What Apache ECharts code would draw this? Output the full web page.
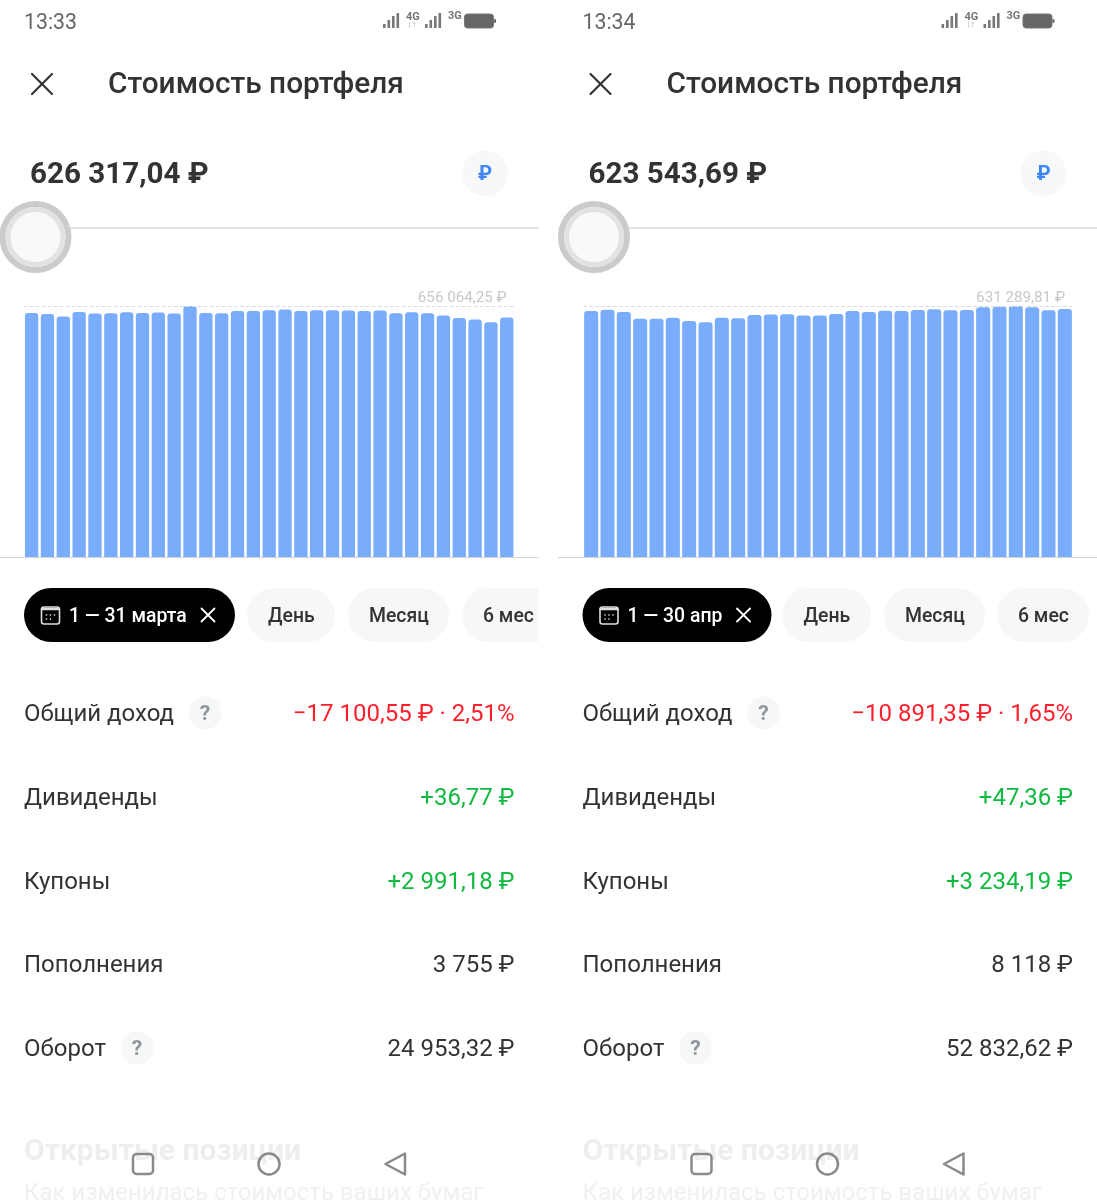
<!DOCTYPE html>
<html>
<head>
<meta charset="utf-8">
<style>
html, body { margin: 0; padding: 0; background: #fff; }
#chart { width: 1097px; height: 1200px; }
</style>
<script src="https://cdn.jsdelivr.net/npm/echarts@6/dist/echarts.min.js"></script>
</head>
<body>
<div id="chart"></div>
<script>
// values, the last one of each month is the headline total
const marchDays = [1,2,3,4,5,6,7,8,9,10,11,12,13,14,15,16,17,18,19,20,21,22,23,24,25,26,27,28,29,30,31];
const marchValues = [637800,635200,628400,640400,636200,637000,639600,637800,638800,636200,656064.25,637800,637000,643000,643000,644800,646600,643000,644800,644800,644000,643000,644000,637000,639600,637000,631000,624700,620500,613500,626317.04];
const aprilDays = [1,2,3,4,5,6,7,8,9,10,11,12,13,14,15,16,17,18,19,20,21,22,23,24,25,26,27,28,29,30];
const aprilValues = [618800,622100,616300,599500,599500,602000,593700,590300,602000,600400,608700,609600,610400,607100,607100,611300,618800,616300,619600,618800,621300,623000,620500,621300,628000,629700,631289.81,628000,620500,623543.69];

const rowLabels = ["Общий доход", "Дивиденды", "Купоны", "Пополнения", "Оборот"];
const rowY = [713, 797, 881, 964, 1048];
const rowColors = ["#ff1f2b", "#10b93f", "#10b93f", "#333333", "#333333"];
const marchRows = ["−17 100,55 ₽ · 2,51%", "+36,77 ₽", "+2 991,18 ₽", "3 755 ₽", "24 953,32 ₽"];
const aprilRows = ["−10 891,35 ₽ · 1,65%", "+47,36 ₽", "+3 234,19 ₽", "8 118 ₽", "52 832,62 ₽"];

const FONT = "Roboto, sans-serif";
const chart = echarts.init(document.getElementById("chart"), null, { renderer: "canvas" });
const graphics = [];

function txt(x, y, text, size, color, weight, align) {
    graphics.push({
        type: "text", x: x, y: y + size * 0.1, silent: true,
        style: {
            text: text, fontSize: size, fontFamily: FONT, fill: color,
            fontWeight: weight || 400, textAlign: align || "left", textVerticalAlign: "middle"
        }
    });
}
function rect(x, y, w, h, r, fill, stroke, lw) {
    graphics.push({
        type: "rect", silent: true,
        shape: { x: x, y: y, width: w, height: h, r: r },
        style: { fill: fill, stroke: stroke || null, lineWidth: lw || 0 }
    });
}
function line(x1, y1, x2, y2, color, lw) {
    graphics.push({
        type: "line", silent: true,
        shape: { x1: x1, y1: y1, x2: x2, y2: y2 },
        style: { stroke: color, lineWidth: lw, lineCap: "round" }
    });
}
function circle(cx, cy, r, fill, stroke, lw) {
    graphics.push({
        type: "circle", silent: true,
        shape: { cx: cx, cy: cy, r: r },
        style: { fill: fill, stroke: stroke || null, lineWidth: lw || 0 }
    });
}
function cross(cx, cy, s, color, lw) {
    line(cx - s, cy - s, cx + s, cy + s, color, lw);
    line(cx - s, cy + s, cx + s, cy - s, color, lw);
}
function signal(x) {
    [4, 8, 12, 15].forEach(function (h, i) {
        rect(x + i * 4.5, 28 - h, 2.6, h, 0.5, "#777");
    });
}

// one phone screen, dx shifts it to its column
function drawScreen(p) {
    const dx = p.dx;
    txt(24 + dx, 22, p.time, 21.3, "#666");
    signal(383 + dx);
    txt(406 + dx, 16, "4G", 11, "#777", 700);
    txt(407.5 + dx, 24, "↓↑", 9, "#aaa", 400);
    signal(425 + dx);
    txt(448 + dx, 15.5, "3G", 11, "#777", 700);
    rect(464.5 + dx, 14, 29, 14, 3, "#666", "#777", 1);
    rect(494 + dx, 19, 2, 4, 1, "#666");

    cross(42 + dx, 84, 10, "#333", 2.2);
    txt(108 + dx, 83, "Стоимость портфеля", 29.8, "#333", 500);
    txt(30 + dx, 173, p.total, 29.6, "#333", 700);
    circle(485 + dx, 173.5, 23, "#f6f8f9");
    txt(485 + dx, 173, "₽", 20, "#3d86f5", 700, "center");

    line(dx, 228, p.lineEnd, 228, "#cccccc", 1.2);
    circle(35.5 + dx, 237, 33, "#f9f9f9", "#cbcbcb", 6);
    circle(35.5 + dx, 237, 27.5, null, "#e2e2e2", 5);

    line(dx, 557.5, p.lineEnd, 557.5, "#d4d4d4", 1.2);

    rect(24 + dx, 588, p.pillW, 54, 27, "#000");
    rect(41.5 + dx, 607, 18, 17, 2.5, "#000", "#ddd", 1.6);
    line(42 + dx, 609, 59 + dx, 609, "#ddd", 2.5);
    [46.5, 50.5, 54.5].forEach(function (cx) {
        circle(cx + dx, 615, 0.8, "#fff");
    });
    circle(46.5 + dx, 619, 0.8, "#fff");
    circle(50.5 + dx, 619, 0.8, "#fff");
    txt(69 + dx, 615, p.range, 19.4, "#fff", 500);
    cross(p.pillX + dx, 615, 6.5, "#fff", 1.8);

    p.pills.forEach(function (b) {
        rect(b[0], 588, b[1], 54, b[3] ? [27, 0, 0, 27] : 27, "#f6f7f7");
        txt(b[0] + b[4], 615, b[2], 19.4, "#333", 500);
    });

    rowLabels.forEach(function (label, i) {
        txt(24 + dx, rowY[i], label, 24, "#333");
        txt(514.5 + dx, rowY[i], p.rows[i], 24, rowColors[i], 400, "right");
    });
    circle(205 + dx, 713, 16.5, "#f6f7f7");
    txt(205 + dx, 713, "?", 21, "#8f959c", 700, "center");
    circle(137 + dx, 1048, 16.5, "#f6f7f7");
    txt(137 + dx, 1048, "?", 21, "#8f959c", 700, "center");

    txt(24 + dx, 1149, "Открытые позиции", 30, "#eeeeee", 700);
    txt(24 + dx, 1192, "Как изменилась стоимость ваших бумаг", 24, "#f0f0f0");

    rect(133 + dx, 1154, 20, 20, 3.5, null, "#8a8a8a", 2.5);
    circle(269 + dx, 1164, 10.5, null, "#8a8a8a", 2.5);
    graphics.push({
        type: "polygon", silent: true,
        shape: { points: [[405 + dx, 1153.5], [405 + dx, 1174.5], [385.5 + dx, 1164]] },
        style: { fill: null, stroke: "#8a8a8a", lineWidth: 2.5, lineJoin: "round" }
    });
}

drawScreen({
    dx: 0, time: "13:33", total: "626 317,04 ₽", lineEnd: 538.5, range: "1 — 31 марта",
    pillW: 211, pillX: 208, rows: marchRows,
    pills: [[247, 88, "День", false, 21], [348, 101, "Месяц", false, 21], [462, 76.5, "6 мес", true, 21]]
});
drawScreen({
    dx: 558.5, time: "13:34", total: "623 543,69 ₽", lineEnd: 1097, range: "1 — 30 апр",
    pillW: 189, pillX: 185, rows: aprilRows,
    pills: [[782, 89, "День", false, 21.5], [884, 101, "Месяц", false, 21], [997, 92, "6 мес", false, 21]]
});

function barSeries(idx, values, gap, maxLabel) {
    return {
        type: "bar",
        xAxisIndex: idx,
        yAxisIndex: idx,
        data: values,
        barCategoryGap: gap,
        silent: true,
        itemStyle: { color: "#79acfb", borderRadius: [3, 3, 0, 0] },
        markLine: {
            silent: true,
            symbol: "none",
            animation: false,
            data: [{ yAxis: Math.max.apply(null, values) }],
            lineStyle: { type: "dashed", color: "#dddddd", width: 1 },
            label: {
                position: "insideEndTop",
                distance: [8, 0],
                formatter: maxLabel,
                color: "#c8c8c8",
                fontFamily: FONT,
                fontSize: 15.2
            }
        }
    };
}

chart.setOption({
    animation: false,
    backgroundColor: "#fff",
    grid: [
        { left: 23.7, width: 491, top: 306, height: 251 },
        { left: 583, width: 490, top: 306, height: 251 }
    ],
    xAxis: [
        { gridIndex: 0, type: "category", data: marchDays, show: false },
        { gridIndex: 1, type: "category", data: aprilDays, show: false }
    ],
    yAxis: [
        { gridIndex: 0, type: "value", min: 0, max: 656064.25, show: false },
        { gridIndex: 1, type: "value", min: 0, max: 631289.81, show: false }
    ],
    series: [
        barSeries(0, marchValues, "16%", "656 064,25 ₽"),
        barSeries(1, aprilValues, "14%", "631 289,81 ₽")
    ],
    graphic: graphics
});
</script>
</body>
</html>
